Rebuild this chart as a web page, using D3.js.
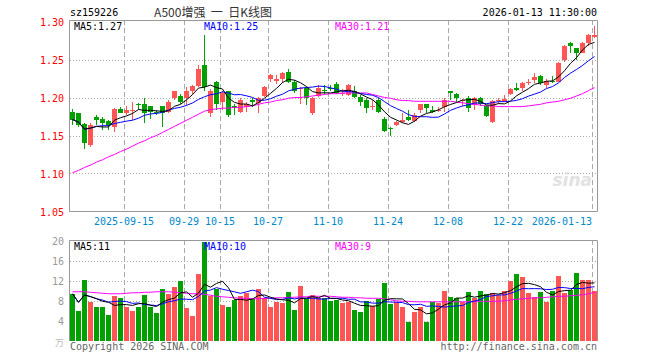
<!DOCTYPE html>
<html>
<head>
<meta charset="utf-8">
<script src="https://cdn.jsdelivr.net/npm/d3@7"></script>
<style>
  body { margin: 0; background: #fff; }
  svg { display: block; }
  text { font-family: "DejaVu Sans Mono", monospace; font-size: 10px; }
</style>
</head>
<body>
<svg id="chart" width="660" height="360"></svg>
<script>
// daily candles, 88 trading days ending 2026-01-13
const opens = [1.181,1.179,1.165,1.137,1.175,1.172,1.169,1.161,1.185,1.180,
  1.182,1.192,1.191,1.189,1.181,1.189,1.181,1.199,1.202,1.199,
  1.208,1.215,1.243,1.179,1.221,1.194,1.208,1.189,1.181,1.187,
  1.197,1.193,1.202,1.224,1.222,1.224,1.233,1.221,1.211,1.212,
  1.179,1.202,1.210,1.213,1.218,1.204,1.203,1.208,1.201,1.197,
  1.187,1.197,1.172,1.160,1.164,1.168,1.175,1.169,1.183,1.191,
  1.184,1.183,1.187,1.208,1.205,1.196,1.200,1.190,1.200,1.189,
  1.168,1.195,1.195,1.205,1.212,1.213,1.219,1.223,1.228,1.217,
  1.222,1.221,1.249,1.272,1.265,1.259,1.272,1.280];
const highs = [1.185,1.180,1.167,1.166,1.177,1.174,1.170,1.186,1.188,1.189,
  1.194,1.193,1.199,1.189,1.183,1.189,1.197,1.209,1.205,1.214,
  1.216,1.243,1.282,1.211,1.222,1.208,1.208,1.191,1.199,1.194,
  1.200,1.201,1.215,1.231,1.229,1.233,1.237,1.223,1.214,1.214,
  1.201,1.216,1.216,1.216,1.221,1.211,1.218,1.215,1.203,1.199,
  1.197,1.199,1.174,1.161,1.169,1.179,1.183,1.180,1.192,1.192,
  1.189,1.187,1.199,1.209,1.206,1.198,1.202,1.201,1.201,1.190,
  1.197,1.199,1.203,1.213,1.219,1.221,1.224,1.232,1.229,1.224,
  1.228,1.247,1.269,1.273,1.265,1.273,1.284,1.294];
const lows = [1.164,1.161,1.132,1.135,1.164,1.157,1.157,1.155,1.179,1.177,
  1.170,1.183,1.167,1.172,1.177,1.161,1.179,1.197,1.192,1.190,
  1.205,1.214,1.208,1.175,1.184,1.184,1.175,1.177,1.179,1.181,
  1.188,1.180,1.201,1.221,1.218,1.219,1.219,1.206,1.192,1.190,
  1.177,1.201,1.205,1.208,1.204,1.202,1.202,1.200,1.189,1.180,
  1.183,1.179,1.155,1.150,1.162,1.167,1.169,1.168,1.179,1.180,
  1.179,1.181,1.181,1.197,1.194,1.189,1.181,1.183,1.189,1.175,
  1.167,1.192,1.194,1.203,1.208,1.209,1.216,1.219,1.216,1.213,
  1.219,1.220,1.247,1.259,1.250,1.258,1.268,1.278];
const closes = [1.171,1.164,1.140,1.164,1.171,1.167,1.164,1.185,1.180,1.183,
  1.183,1.190,1.179,1.181,1.179,1.180,1.194,1.208,1.194,1.208,
  1.215,1.237,1.214,1.208,1.191,1.206,1.177,1.186,1.197,1.191,
  1.194,1.199,1.214,1.229,1.224,1.232,1.221,1.208,1.212,1.199,
  1.199,1.212,1.209,1.211,1.206,1.206,1.216,1.201,1.194,1.186,
  1.189,1.181,1.156,1.158,1.168,1.171,1.170,1.177,1.191,1.186,
  1.181,1.184,1.197,1.206,1.199,1.197,1.186,1.200,1.192,1.176,
  1.195,1.197,1.198,1.211,1.210,1.219,1.220,1.227,1.219,1.222,
  1.221,1.246,1.268,1.268,1.259,1.272,1.282,1.282];
// volume, in 万
const volumes = [9.4,6.0,12.1,7.8,6.8,6.8,5.1,8.9,8.6,6.8,
  6.0,6.8,9.1,6.8,5.6,10.3,9.3,10.8,11.9,6.6,
  5.0,13.3,19.7,8.9,10.4,7.1,6.8,8.1,9.0,9.6,
  8.3,10.3,8.6,6.8,7.8,7.5,9.8,6.1,11.0,8.3,
  9.1,8.5,8.6,8.0,8.1,7.6,7.8,6.1,5.8,7.9,
  7.0,8.4,11.5,7.3,7.8,6.8,3.8,5.8,6.8,3.8,
  7.8,7.5,10.0,8.8,8.6,7.8,9.8,8.6,10.0,9.4,
  9.5,9.2,10.0,11.9,13.3,12.7,9.5,8.7,9.8,7.8,
  10.0,12.9,9.6,10.2,13.5,12.1,12.1,10.0];
// 30-day averages as shown (they reach back before the visible window)
const ma30 = [1.101,1.104,1.108,1.111,1.115,1.118,1.122,1.125,1.129,1.132,
  1.136,1.140,1.143,1.147,1.150,1.154,1.158,1.162,1.166,1.170,
  1.174,1.178,1.182,1.184,1.185,1.186,1.186,1.187,1.187,1.188,
  1.189,1.191,1.193,1.194,1.196,1.197,1.199,1.200,1.200,1.201,
  1.202,1.203,1.204,1.205,1.205,1.206,1.206,1.206,1.206,1.206,
  1.204,1.202,1.200,1.199,1.197,1.196,1.196,1.195,1.195,1.195,
  1.195,1.195,1.195,1.195,1.194,1.193,1.192,1.191,1.190,1.189,
  1.189,1.188,1.188,1.188,1.188,1.188,1.189,1.190,1.191,1.193,
  1.194,1.195,1.197,1.199,1.202,1.205,1.209,1.213];
const volMa30 = [9.8,9.8,9.8,9.7,9.6,9.5,9.4,9.4,9.4,9.5,
  9.6,9.6,9.7,9.7,9.8,9.8,9.8,9.7,9.6,9.5,
  9.4,9.4,9.3,9.1,8.9,8.8,8.7,8.6,8.5,8.5,
  8.4,8.4,8.5,8.5,8.6,8.6,8.7,8.7,8.8,8.8,
  8.9,8.9,8.9,8.9,8.8,8.7,8.7,8.6,8.6,8.5,
  8.5,8.5,8.4,8.2,8.0,7.9,7.9,7.8,7.8,7.8,
  7.8,7.8,7.8,7.8,7.8,7.8,7.8,7.9,7.9,7.9,
  7.9,7.9,8.0,8.2,8.3,8.4,8.5,8.6,8.6,8.7,
  8.8,8.9,8.9,9.0,9.1,9.2,9.4,9.7];

const tickIdx = [9, 19, 25, 33, 43, 53, 63, 73, 87];
const tickLabels = ["2025-09-15", "09-29", "10-15", "10-27", "11-10", "11-24", "12-08", "12-22", "2026-01-13"];
const priceTicks = [1.05, 1.10, 1.15, 1.20, 1.25, 1.30];
const volTicks = [4, 8, 12, 16, 20];

const RED = "#ff5555", GREEN = "#00a000", GRID = "#aaa";

const svg = d3.select("#chart");
const left = 70, right = 597;

// simple moving average, window truncated at the start
function movingAvg(arr, n) {
  return arr.map((_, i) => d3.mean(arr.slice(Math.max(0, i - n + 1), i + 1)));
}

const idx = d3.range(closes.length);
const x = d3.scaleBand().domain(idx).range([left, left + 6 * idx.length - 1]).paddingInner(1 / 6);
const cx = i => x(i) + x.bandwidth() / 2;

const yP = d3.scaleLinear().domain([1.05, 1.30]).range([211.5, 21.5]);
const yV = d3.scaleLinear().domain([0, 20]).range([341, 240.5]);

const up = i => closes[i] >= opens[i];

// header
svg.append("text").attr("x", 70).attr("y", 16).attr("fill", "#000").text("sz159226");
svg.append("text").attr("x", 213).attr("y", 17).attr("text-anchor", "middle")
  .style("font-family", "'Noto Sans CJK SC', sans-serif").style("font-size", "12px")
  .style("white-space", "pre")
  .attr("fill", "#333").text("A500增强  一  日K线图");
svg.append("text").attr("x", 597).attr("y", 16).attr("text-anchor", "end").attr("fill", "#000")
  .text("2026-01-13 11:30:00");

function panel(top, bottom, yScale, ticks) {
  const g = svg.append("g");
  // horizontal dotted grid
  g.selectAll("line.h").data(ticks).join("line")
    .attr("x1", left).attr("x2", right)
    .attr("y1", d => Math.round(yScale(d)) + 0.5).attr("y2", d => Math.round(yScale(d)) + 0.5)
    .attr("stroke", GRID).attr("stroke-dasharray", "1,2");
  // vertical dashed grid
  g.selectAll("line.v").data(tickIdx).join("line")
    .attr("x1", d => x(d) + 0.5).attr("x2", d => x(d) + 0.5)
    .attr("y1", top).attr("y2", bottom)
    .attr("stroke", GRID).attr("stroke-dasharray", "5,3");
  // frame
  g.append("path")
    .attr("d", `M${left - 0.5},${bottom}V${top + 0.5}H${right + 0.5}V${bottom}`)
    .attr("fill", "none").attr("stroke", "#999");
  return g;
}

// ---- price panel
panel(20, 211.5, yP, priceTicks.slice(1, 5));
svg.append("line").attr("x1", left - 0.5).attr("x2", right + 0.5).attr("y1", 211.5).attr("y2", 211.5)
  .attr("stroke", "#999");

svg.append("g").selectAll("text").data(priceTicks).join("text")
  .attr("x", 64).attr("y", d => yP(d) + 4).attr("text-anchor", "end")
  .attr("fill", "#f00").text(d => d.toFixed(2));

svg.append("g").selectAll("text").data(tickIdx).join("text")
  .attr("x", (d, i) => x(d)).attr("y", 225)
  .attr("text-anchor", (d, i) => i === tickIdx.length - 1 ? "end" : "middle")
  .attr("fill", "#0088cc").text((d, i) => tickLabels[i]);

// sina watermark
svg.append("text").attr("x", 592).attr("y", 186).attr("text-anchor", "end")
  .style("font-family", "Verdana, 'DejaVu Sans', sans-serif").style("font-size", "17px")
  .style("font-style", "italic").style("font-weight", "bold")
  .attr("fill", "#e2e2e2").text("sina");

const candles = svg.append("g").attr("shape-rendering", "crispEdges");
candles.selectAll("line").data(idx).join("line")
  .attr("x1", cx).attr("x2", cx)
  .attr("y1", i => yP(highs[i])).attr("y2", i => yP(lows[i]))
  .attr("stroke", i => up(i) ? RED : GREEN);
candles.selectAll("rect").data(idx).join("rect")
  .attr("x", i => x(i)).attr("width", x.bandwidth())
  .attr("y", i => yP(Math.max(opens[i], closes[i])))
  .attr("height", i => Math.max(1, Math.abs(yP(opens[i]) - yP(closes[i]))))
  .attr("fill", i => up(i) ? RED : GREEN);

const ma5 = movingAvg(closes, 5), ma10 = movingAvg(closes, 10);
const lineP = arr => d3.line().x(i => cx(i)).y(i => yP(arr[i]))(idx);
[[ma30, "#ff00ff"], [ma10, "#0000ff"], [ma5, "#000"]].forEach(([arr, c]) => {
  svg.append("path").attr("d", lineP(arr)).attr("fill", "none").attr("stroke", c).attr("stroke-width", 1);
});

svg.append("text").attr("x", 74).attr("y", 30).attr("fill", "#000").text("MA5:1.27");
svg.append("text").attr("x", 204).attr("y", 30).attr("fill", "#0000ff").text("MA10:1.25");
svg.append("text").attr("x", 335).attr("y", 30).attr("fill", "#ff00ff").text("MA30:1.21");

// ---- volume panel
panel(240, 341, yV, volTicks.slice(0, 4));

svg.append("g").selectAll("text").data(volTicks).join("text")
  .attr("x", 64).attr("y", d => yV(d) + 4).attr("text-anchor", "end")
  .attr("fill", "#999").text(d => d);
svg.append("text").attr("x", 64).attr("y", 346).attr("text-anchor", "end")
  .attr("fill", "#bbb").style("font-family", "'Noto Sans CJK SC', sans-serif").style("font-size", "9px").text("万");

svg.append("g").attr("shape-rendering", "crispEdges")
  .selectAll("rect").data(idx).join("rect")
  .attr("x", i => x(i)).attr("width", x.bandwidth())
  .attr("y", i => yV(volumes[i])).attr("height", i => yV(0) - yV(volumes[i]))
  .attr("fill", i => up(i) ? RED : GREEN);

const vma5 = movingAvg(volumes, 5), vma10 = movingAvg(volumes, 10);
const lineV = arr => d3.line().x(i => cx(i)).y(i => yV(arr[i]))(idx);
[[volMa30, "#ff00ff"], [vma10, "#0000ff"], [vma5, "#000"]].forEach(([arr, c]) => {
  svg.append("path").attr("d", lineV(arr)).attr("fill", "none").attr("stroke", c).attr("stroke-width", 1);
});

svg.append("text").attr("x", 74).attr("y", 250).attr("fill", "#000").text("MA5:11");
svg.append("text").attr("x", 204).attr("y", 250).attr("fill", "#0000ff").text("MA10:10");
svg.append("text").attr("x", 335).attr("y", 250).attr("fill", "#ff00ff").text("MA30:9");

// footer
svg.append("text").attr("x", 70).attr("y", 350).attr("fill", "#666").text("Copyright 2026 SINA.COM");
svg.append("text").attr("x", 597).attr("y", 350).attr("text-anchor", "end").attr("fill", "#666")
  .text("http://finance.sina.com.cn");
</script>
</body>
</html>
